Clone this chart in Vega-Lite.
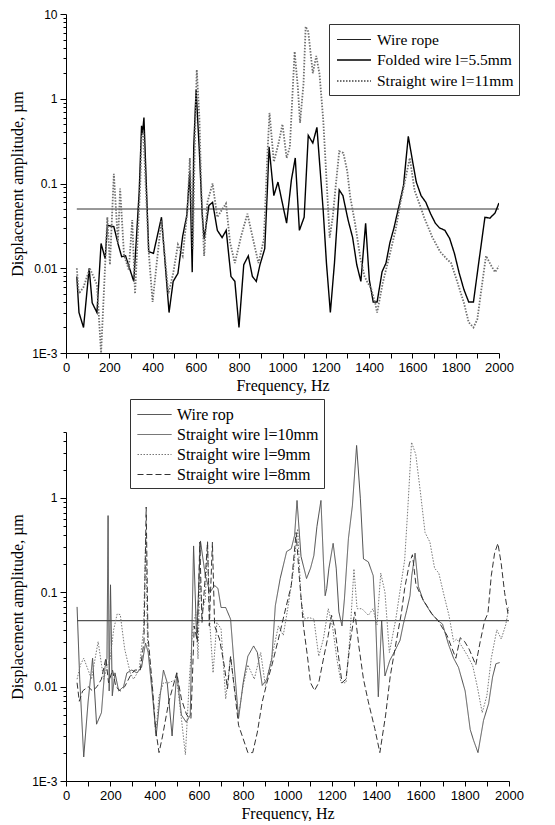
{
"$schema": "https://vega.github.io/schema/vega-lite/v6.json",
"background": "white",
"padding": {"left": 9, "top": 8, "right": 5, "bottom": 0},
"config": {
 "view": {"stroke": null},
 "axis": {"domainColor": "#000", "tickColor": "#000", "labelColor": "#000", "titleColor": "#000", "grid": false, "labelFont": "Liberation Sans", "titleFont": "Liberation Serif", "titleFontWeight": "normal", "titleFontSize": 16, "domainWidth": 1, "tickWidth": 1, "labelOverlap": false, "labelFlush": false},
 "legend": {"title": null, "orient": "none", "labelFont": "Liberation Serif", "labelFontSize": 16, "labelColor": "#000", "labelLimit": 300, "symbolType": "M-0.8,0H2.6", "symbolSize": 400, "labelOffset": 21, "rowPadding": 1, "padding": 5, "strokeColor": "#333", "fillColor": "white", "symbolFillColor": "transparent"}
},
"spacing": 79,
"bounds": "flush",
"resolve": {"scale": {"color": "independent", "strokeDash": "independent", "strokeWidth": "independent"}, "legend": {"color": "independent", "strokeDash": "independent", "strokeWidth": "independent"}},
"datasets": {
 "top": [
  {"freq":50,"amp":0.05,"series":"Wire rope"},{"freq":2000,"amp":0.05,"series":"Wire rope"},
  {"freq":50,"amp":0.008,"series":"Folded wire l=5.5mm"},{"freq":60,"amp":0.003,"series":"Folded wire l=5.5mm"},{"freq":81,"amp":0.002,"series":"Folded wire l=5.5mm"},{"freq":107,"amp":0.01,"series":"Folded wire l=5.5mm"},{"freq":121,"amp":0.0039,"series":"Folded wire l=5.5mm"},{"freq":143,"amp":0.003,"series":"Folded wire l=5.5mm"},{"freq":162,"amp":0.0196,"series":"Folded wire l=5.5mm"},{"freq":181,"amp":0.013,"series":"Folded wire l=5.5mm"},{"freq":191,"amp":0.032,"series":"Folded wire l=5.5mm"},{"freq":221,"amp":0.031,"series":"Folded wire l=5.5mm"},{"freq":240,"amp":0.0196,"series":"Folded wire l=5.5mm"},{"freq":257,"amp":0.0137,"series":"Folded wire l=5.5mm"},{"freq":275,"amp":0.014,"series":"Folded wire l=5.5mm"},{"freq":313,"amp":0.007,"series":"Folded wire l=5.5mm"},{"freq":324,"amp":0.02,"series":"Folded wire l=5.5mm"},{"freq":338,"amp":0.079,"series":"Folded wire l=5.5mm"},{"freq":349,"amp":0.48,"series":"Folded wire l=5.5mm"},{"freq":353,"amp":0.38,"series":"Folded wire l=5.5mm"},{"freq":360,"amp":0.6,"series":"Folded wire l=5.5mm"},{"freq":382,"amp":0.0157,"series":"Folded wire l=5.5mm"},{"freq":404,"amp":0.015,"series":"Folded wire l=5.5mm"},{"freq":441,"amp":0.04,"series":"Folded wire l=5.5mm"},{"freq":476,"amp":0.003,"series":"Folded wire l=5.5mm"},{"freq":495,"amp":0.007,"series":"Folded wire l=5.5mm"},{"freq":517,"amp":0.0087,"series":"Folded wire l=5.5mm"},{"freq":539,"amp":0.024,"series":"Folded wire l=5.5mm"},{"freq":558,"amp":0.042,"series":"Folded wire l=5.5mm"},{"freq":572,"amp":0.14,"series":"Folded wire l=5.5mm"},{"freq":583,"amp":0.009,"series":"Folded wire l=5.5mm"},{"freq":590,"amp":0.27,"series":"Folded wire l=5.5mm"},{"freq":601,"amp":1.28,"series":"Folded wire l=5.5mm"},{"freq":616,"amp":0.24,"series":"Folded wire l=5.5mm"},{"freq":629,"amp":0.044,"series":"Folded wire l=5.5mm"},{"freq":638,"amp":0.022,"series":"Folded wire l=5.5mm"},{"freq":660,"amp":0.055,"series":"Folded wire l=5.5mm"},{"freq":677,"amp":0.06,"series":"Folded wire l=5.5mm"},{"freq":699,"amp":0.028,"series":"Folded wire l=5.5mm"},{"freq":721,"amp":0.023,"series":"Folded wire l=5.5mm"},{"freq":740,"amp":0.028,"series":"Folded wire l=5.5mm"},{"freq":762,"amp":0.008,"series":"Folded wire l=5.5mm"},{"freq":780,"amp":0.007,"series":"Folded wire l=5.5mm"},{"freq":799,"amp":0.002,"series":"Folded wire l=5.5mm"},{"freq":821,"amp":0.011,"series":"Folded wire l=5.5mm"},{"freq":842,"amp":0.014,"series":"Folded wire l=5.5mm"},{"freq":861,"amp":0.008,"series":"Folded wire l=5.5mm"},{"freq":879,"amp":0.007,"series":"Folded wire l=5.5mm"},{"freq":896,"amp":0.011,"series":"Folded wire l=5.5mm"},{"freq":918,"amp":0.017,"series":"Folded wire l=5.5mm"},{"freq":930,"amp":0.083,"series":"Folded wire l=5.5mm"},{"freq":938,"amp":0.27,"series":"Folded wire l=5.5mm"},{"freq":960,"amp":0.072,"series":"Folded wire l=5.5mm"},{"freq":979,"amp":0.104,"series":"Folded wire l=5.5mm"},{"freq":1019,"amp":0.034,"series":"Folded wire l=5.5mm"},{"freq":1041,"amp":0.11,"series":"Folded wire l=5.5mm"},{"freq":1059,"amp":0.2,"series":"Folded wire l=5.5mm"},{"freq":1078,"amp":0.028,"series":"Folded wire l=5.5mm"},{"freq":1100,"amp":0.04,"series":"Folded wire l=5.5mm"},{"freq":1119,"amp":0.37,"series":"Folded wire l=5.5mm"},{"freq":1140,"amp":0.3,"series":"Folded wire l=5.5mm"},{"freq":1159,"amp":0.46,"series":"Folded wire l=5.5mm"},{"freq":1188,"amp":0.048,"series":"Folded wire l=5.5mm"},{"freq":1203,"amp":0.0115,"series":"Folded wire l=5.5mm"},{"freq":1221,"amp":0.003,"series":"Folded wire l=5.5mm"},{"freq":1240,"amp":0.0115,"series":"Folded wire l=5.5mm"},{"freq":1262,"amp":0.084,"series":"Folded wire l=5.5mm"},{"freq":1279,"amp":0.072,"series":"Folded wire l=5.5mm"},{"freq":1303,"amp":0.037,"series":"Folded wire l=5.5mm"},{"freq":1324,"amp":0.023,"series":"Folded wire l=5.5mm"},{"freq":1343,"amp":0.011,"series":"Folded wire l=5.5mm"},{"freq":1362,"amp":0.007,"series":"Folded wire l=5.5mm"},{"freq":1384,"amp":0.034,"series":"Folded wire l=5.5mm"},{"freq":1401,"amp":0.0073,"series":"Folded wire l=5.5mm"},{"freq":1419,"amp":0.004,"series":"Folded wire l=5.5mm"},{"freq":1437,"amp":0.004,"series":"Folded wire l=5.5mm"},{"freq":1460,"amp":0.0091,"series":"Folded wire l=5.5mm"},{"freq":1478,"amp":0.0115,"series":"Folded wire l=5.5mm"},{"freq":1496,"amp":0.02,"series":"Folded wire l=5.5mm"},{"freq":1515,"amp":0.03,"series":"Folded wire l=5.5mm"},{"freq":1537,"amp":0.053,"series":"Folded wire l=5.5mm"},{"freq":1559,"amp":0.095,"series":"Folded wire l=5.5mm"},{"freq":1581,"amp":0.36,"series":"Folded wire l=5.5mm"},{"freq":1603,"amp":0.17,"series":"Folded wire l=5.5mm"},{"freq":1618,"amp":0.104,"series":"Folded wire l=5.5mm"},{"freq":1640,"amp":0.072,"series":"Folded wire l=5.5mm"},{"freq":1662,"amp":0.06,"series":"Folded wire l=5.5mm"},{"freq":1684,"amp":0.044,"series":"Folded wire l=5.5mm"},{"freq":1706,"amp":0.034,"series":"Folded wire l=5.5mm"},{"freq":1725,"amp":0.03,"series":"Folded wire l=5.5mm"},{"freq":1750,"amp":0.028,"series":"Folded wire l=5.5mm"},{"freq":1772,"amp":0.0225,"series":"Folded wire l=5.5mm"},{"freq":1794,"amp":0.015,"series":"Folded wire l=5.5mm"},{"freq":1816,"amp":0.0088,"series":"Folded wire l=5.5mm"},{"freq":1838,"amp":0.0056,"series":"Folded wire l=5.5mm"},{"freq":1860,"amp":0.004,"series":"Folded wire l=5.5mm"},{"freq":1882,"amp":0.004,"series":"Folded wire l=5.5mm"},{"freq":1904,"amp":0.0105,"series":"Folded wire l=5.5mm"},{"freq":1935,"amp":0.04,"series":"Folded wire l=5.5mm"},{"freq":1958,"amp":0.039,"series":"Folded wire l=5.5mm"},{"freq":1982,"amp":0.045,"series":"Folded wire l=5.5mm"},{"freq":2000,"amp":0.059,"series":"Folded wire l=5.5mm"},
  {"freq":50,"amp":0.01,"series":"Straight wire l=11mm"},{"freq":59,"amp":0.005,"series":"Straight wire l=11mm"},{"freq":81,"amp":0.006,"series":"Straight wire l=11mm"},{"freq":110,"amp":0.01,"series":"Straight wire l=11mm"},{"freq":143,"amp":0.0064,"series":"Straight wire l=11mm"},{"freq":162,"amp":0.001,"series":"Straight wire l=11mm"},{"freq":191,"amp":0.04,"series":"Straight wire l=11mm"},{"freq":203,"amp":0.011,"series":"Straight wire l=11mm"},{"freq":221,"amp":0.13,"series":"Straight wire l=11mm"},{"freq":240,"amp":0.02,"series":"Straight wire l=11mm"},{"freq":250,"amp":0.087,"series":"Straight wire l=11mm"},{"freq":268,"amp":0.0143,"series":"Straight wire l=11mm"},{"freq":290,"amp":0.0096,"series":"Straight wire l=11mm"},{"freq":306,"amp":0.037,"series":"Straight wire l=11mm"},{"freq":319,"amp":0.005,"series":"Straight wire l=11mm"},{"freq":331,"amp":0.023,"series":"Straight wire l=11mm"},{"freq":343,"amp":0.1,"series":"Straight wire l=11mm"},{"freq":349,"amp":0.35,"series":"Straight wire l=11mm"},{"freq":357,"amp":0.42,"series":"Straight wire l=11mm"},{"freq":382,"amp":0.0157,"series":"Straight wire l=11mm"},{"freq":400,"amp":0.004,"series":"Straight wire l=11mm"},{"freq":419,"amp":0.0115,"series":"Straight wire l=11mm"},{"freq":441,"amp":0.037,"series":"Straight wire l=11mm"},{"freq":473,"amp":0.005,"series":"Straight wire l=11mm"},{"freq":495,"amp":0.0087,"series":"Straight wire l=11mm"},{"freq":517,"amp":0.019,"series":"Straight wire l=11mm"},{"freq":539,"amp":0.014,"series":"Straight wire l=11mm"},{"freq":561,"amp":0.048,"series":"Straight wire l=11mm"},{"freq":572,"amp":0.2,"series":"Straight wire l=11mm"},{"freq":586,"amp":0.017,"series":"Straight wire l=11mm"},{"freq":594,"amp":0.24,"series":"Straight wire l=11mm"},{"freq":604,"amp":2.2,"series":"Straight wire l=11mm"},{"freq":616,"amp":0.6,"series":"Straight wire l=11mm"},{"freq":626,"amp":0.07,"series":"Straight wire l=11mm"},{"freq":638,"amp":0.014,"series":"Straight wire l=11mm"},{"freq":653,"amp":0.06,"series":"Straight wire l=11mm"},{"freq":677,"amp":0.1,"series":"Straight wire l=11mm"},{"freq":699,"amp":0.04,"series":"Straight wire l=11mm"},{"freq":718,"amp":0.048,"series":"Straight wire l=11mm"},{"freq":739,"amp":0.058,"series":"Straight wire l=11mm"},{"freq":758,"amp":0.02,"series":"Straight wire l=11mm"},{"freq":780,"amp":0.0115,"series":"Straight wire l=11mm"},{"freq":809,"amp":0.024,"series":"Straight wire l=11mm"},{"freq":838,"amp":0.044,"series":"Straight wire l=11mm"},{"freq":864,"amp":0.022,"series":"Straight wire l=11mm"},{"freq":889,"amp":0.0115,"series":"Straight wire l=11mm"},{"freq":914,"amp":0.022,"series":"Straight wire l=11mm"},{"freq":931,"amp":0.24,"series":"Straight wire l=11mm"},{"freq":940,"amp":0.68,"series":"Straight wire l=11mm"},{"freq":960,"amp":0.18,"series":"Straight wire l=11mm"},{"freq":982,"amp":0.3,"series":"Straight wire l=11mm"},{"freq":1000,"amp":0.5,"series":"Straight wire l=11mm"},{"freq":1019,"amp":0.2,"series":"Straight wire l=11mm"},{"freq":1034,"amp":0.27,"series":"Straight wire l=11mm"},{"freq":1056,"amp":3.6,"series":"Straight wire l=11mm"},{"freq":1071,"amp":1.35,"series":"Straight wire l=11mm"},{"freq":1081,"amp":0.52,"series":"Straight wire l=11mm"},{"freq":1097,"amp":1.5,"series":"Straight wire l=11mm"},{"freq":1107,"amp":7.1,"series":"Straight wire l=11mm"},{"freq":1119,"amp":6.2,"series":"Straight wire l=11mm"},{"freq":1140,"amp":2.0,"series":"Straight wire l=11mm"},{"freq":1156,"amp":3.2,"series":"Straight wire l=11mm"},{"freq":1171,"amp":1.95,"series":"Straight wire l=11mm"},{"freq":1188,"amp":0.57,"series":"Straight wire l=11mm"},{"freq":1206,"amp":0.083,"series":"Straight wire l=11mm"},{"freq":1218,"amp":0.023,"series":"Straight wire l=11mm"},{"freq":1232,"amp":0.04,"series":"Straight wire l=11mm"},{"freq":1247,"amp":0.1,"series":"Straight wire l=11mm"},{"freq":1262,"amp":0.24,"series":"Straight wire l=11mm"},{"freq":1281,"amp":0.23,"series":"Straight wire l=11mm"},{"freq":1299,"amp":0.14,"series":"Straight wire l=11mm"},{"freq":1313,"amp":0.069,"series":"Straight wire l=11mm"},{"freq":1335,"amp":0.034,"series":"Straight wire l=11mm"},{"freq":1360,"amp":0.013,"series":"Straight wire l=11mm"},{"freq":1379,"amp":0.008,"series":"Straight wire l=11mm"},{"freq":1394,"amp":0.0067,"series":"Straight wire l=11mm"},{"freq":1409,"amp":0.0058,"series":"Straight wire l=11mm"},{"freq":1428,"amp":0.0039,"series":"Straight wire l=11mm"},{"freq":1437,"amp":0.003,"series":"Straight wire l=11mm"},{"freq":1463,"amp":0.0067,"series":"Straight wire l=11mm"},{"freq":1493,"amp":0.0137,"series":"Straight wire l=11mm"},{"freq":1522,"amp":0.028,"series":"Straight wire l=11mm"},{"freq":1544,"amp":0.058,"series":"Straight wire l=11mm"},{"freq":1566,"amp":0.108,"series":"Straight wire l=11mm"},{"freq":1588,"amp":0.2,"series":"Straight wire l=11mm"},{"freq":1610,"amp":0.083,"series":"Straight wire l=11mm"},{"freq":1632,"amp":0.058,"series":"Straight wire l=11mm"},{"freq":1654,"amp":0.04,"series":"Straight wire l=11mm"},{"freq":1691,"amp":0.0235,"series":"Straight wire l=11mm"},{"freq":1728,"amp":0.0157,"series":"Straight wire l=11mm"},{"freq":1757,"amp":0.013,"series":"Straight wire l=11mm"},{"freq":1779,"amp":0.0115,"series":"Straight wire l=11mm"},{"freq":1809,"amp":0.0067,"series":"Straight wire l=11mm"},{"freq":1838,"amp":0.0039,"series":"Straight wire l=11mm"},{"freq":1860,"amp":0.0023,"series":"Straight wire l=11mm"},{"freq":1882,"amp":0.002,"series":"Straight wire l=11mm"},{"freq":1900,"amp":0.0025,"series":"Straight wire l=11mm"},{"freq":1920,"amp":0.006,"series":"Straight wire l=11mm"},{"freq":1940,"amp":0.014,"series":"Straight wire l=11mm"},{"freq":1966,"amp":0.0105,"series":"Straight wire l=11mm"},{"freq":1982,"amp":0.009,"series":"Straight wire l=11mm"},{"freq":2000,"amp":0.0106,"series":"Straight wire l=11mm"}
 ],
 "bottom": [
  {"freq":50,"amp":0.05,"series":"Wire rop"},{"freq":2000,"amp":0.05,"series":"Wire rop"},
  {"freq":50,"amp":0.07,"series":"Straight wire l=10mm"},{"freq":62,"amp":0.012,"series":"Straight wire l=10mm"},{"freq":80,"amp":0.0018,"series":"Straight wire l=10mm"},{"freq":100,"amp":0.007,"series":"Straight wire l=10mm"},{"freq":120,"amp":0.02,"series":"Straight wire l=10mm"},{"freq":138,"amp":0.004,"series":"Straight wire l=10mm"},{"freq":160,"amp":0.0053,"series":"Straight wire l=10mm"},{"freq":176,"amp":0.016,"series":"Straight wire l=10mm"},{"freq":185,"amp":0.02,"series":"Straight wire l=10mm"},{"freq":190,"amp":0.65,"series":"Straight wire l=10mm"},{"freq":195,"amp":0.009,"series":"Straight wire l=10mm"},{"freq":201,"amp":0.12,"series":"Straight wire l=10mm"},{"freq":209,"amp":0.008,"series":"Straight wire l=10mm"},{"freq":221,"amp":0.014,"series":"Straight wire l=10mm"},{"freq":238,"amp":0.009,"series":"Straight wire l=10mm"},{"freq":260,"amp":0.01,"series":"Straight wire l=10mm"},{"freq":275,"amp":0.014,"series":"Straight wire l=10mm"},{"freq":297,"amp":0.015,"series":"Straight wire l=10mm"},{"freq":320,"amp":0.014,"series":"Straight wire l=10mm"},{"freq":341,"amp":0.016,"series":"Straight wire l=10mm"},{"freq":359,"amp":0.029,"series":"Straight wire l=10mm"},{"freq":371,"amp":0.023,"series":"Straight wire l=10mm"},{"freq":393,"amp":0.007,"series":"Straight wire l=10mm"},{"freq":407,"amp":0.003,"series":"Straight wire l=10mm"},{"freq":425,"amp":0.008,"series":"Straight wire l=10mm"},{"freq":440,"amp":0.015,"series":"Straight wire l=10mm"},{"freq":457,"amp":0.011,"series":"Straight wire l=10mm"},{"freq":479,"amp":0.003,"series":"Straight wire l=10mm"},{"freq":500,"amp":0.014,"series":"Straight wire l=10mm"},{"freq":521,"amp":0.005,"series":"Straight wire l=10mm"},{"freq":543,"amp":0.0042,"series":"Straight wire l=10mm"},{"freq":561,"amp":0.005,"series":"Straight wire l=10mm"},{"freq":576,"amp":0.31,"series":"Straight wire l=10mm"},{"freq":590,"amp":0.032,"series":"Straight wire l=10mm"},{"freq":607,"amp":0.35,"series":"Straight wire l=10mm"},{"freq":629,"amp":0.15,"series":"Straight wire l=10mm"},{"freq":650,"amp":0.1,"series":"Straight wire l=10mm"},{"freq":671,"amp":0.118,"series":"Straight wire l=10mm"},{"freq":686,"amp":0.11,"series":"Straight wire l=10mm"},{"freq":700,"amp":0.069,"series":"Straight wire l=10mm"},{"freq":721,"amp":0.069,"series":"Straight wire l=10mm"},{"freq":743,"amp":0.052,"series":"Straight wire l=10mm"},{"freq":757,"amp":0.0196,"series":"Straight wire l=10mm"},{"freq":779,"amp":0.0046,"series":"Straight wire l=10mm"},{"freq":800,"amp":0.011,"series":"Straight wire l=10mm"},{"freq":821,"amp":0.021,"series":"Straight wire l=10mm"},{"freq":847,"amp":0.027,"series":"Straight wire l=10mm"},{"freq":864,"amp":0.023,"series":"Straight wire l=10mm"},{"freq":886,"amp":0.0103,"series":"Straight wire l=10mm"},{"freq":907,"amp":0.012,"series":"Straight wire l=10mm"},{"freq":929,"amp":0.0196,"series":"Straight wire l=10mm"},{"freq":945,"amp":0.072,"series":"Straight wire l=10mm"},{"freq":967,"amp":0.14,"series":"Straight wire l=10mm"},{"freq":996,"amp":0.27,"series":"Straight wire l=10mm"},{"freq":1017,"amp":0.29,"series":"Straight wire l=10mm"},{"freq":1032,"amp":0.4,"series":"Straight wire l=10mm"},{"freq":1043,"amp":0.94,"series":"Straight wire l=10mm"},{"freq":1061,"amp":0.24,"series":"Straight wire l=10mm"},{"freq":1086,"amp":0.14,"series":"Straight wire l=10mm"},{"freq":1104,"amp":0.18,"series":"Straight wire l=10mm"},{"freq":1119,"amp":0.245,"series":"Straight wire l=10mm"},{"freq":1133,"amp":0.5,"series":"Straight wire l=10mm"},{"freq":1151,"amp":0.94,"series":"Straight wire l=10mm"},{"freq":1162,"amp":0.22,"series":"Straight wire l=10mm"},{"freq":1170,"amp":0.092,"series":"Straight wire l=10mm"},{"freq":1177,"amp":0.11,"series":"Straight wire l=10mm"},{"freq":1187,"amp":0.18,"series":"Straight wire l=10mm"},{"freq":1206,"amp":0.33,"series":"Straight wire l=10mm"},{"freq":1220,"amp":0.18,"series":"Straight wire l=10mm"},{"freq":1232,"amp":0.062,"series":"Straight wire l=10mm"},{"freq":1246,"amp":0.044,"series":"Straight wire l=10mm"},{"freq":1257,"amp":0.085,"series":"Straight wire l=10mm"},{"freq":1275,"amp":0.37,"series":"Straight wire l=10mm"},{"freq":1293,"amp":0.83,"series":"Straight wire l=10mm"},{"freq":1312,"amp":3.6,"series":"Straight wire l=10mm"},{"freq":1329,"amp":0.98,"series":"Straight wire l=10mm"},{"freq":1343,"amp":0.226,"series":"Straight wire l=10mm"},{"freq":1365,"amp":0.21,"series":"Straight wire l=10mm"},{"freq":1387,"amp":0.15,"series":"Straight wire l=10mm"},{"freq":1399,"amp":0.044,"series":"Straight wire l=10mm"},{"freq":1410,"amp":0.0078,"series":"Straight wire l=10mm"},{"freq":1425,"amp":0.05,"series":"Straight wire l=10mm"},{"freq":1440,"amp":0.013,"series":"Straight wire l=10mm"},{"freq":1462,"amp":0.019,"series":"Straight wire l=10mm"},{"freq":1485,"amp":0.024,"series":"Straight wire l=10mm"},{"freq":1508,"amp":0.031,"series":"Straight wire l=10mm"},{"freq":1523,"amp":0.046,"series":"Straight wire l=10mm"},{"freq":1538,"amp":0.064,"series":"Straight wire l=10mm"},{"freq":1553,"amp":0.092,"series":"Straight wire l=10mm"},{"freq":1561,"amp":0.15,"series":"Straight wire l=10mm"},{"freq":1576,"amp":0.26,"series":"Straight wire l=10mm"},{"freq":1591,"amp":0.115,"series":"Straight wire l=10mm"},{"freq":1613,"amp":0.082,"series":"Straight wire l=10mm"},{"freq":1651,"amp":0.059,"series":"Straight wire l=10mm"},{"freq":1680,"amp":0.05,"series":"Straight wire l=10mm"},{"freq":1700,"amp":0.046,"series":"Straight wire l=10mm"},{"freq":1727,"amp":0.028,"series":"Straight wire l=10mm"},{"freq":1750,"amp":0.02,"series":"Straight wire l=10mm"},{"freq":1772,"amp":0.016,"series":"Straight wire l=10mm"},{"freq":1802,"amp":0.009,"series":"Straight wire l=10mm"},{"freq":1825,"amp":0.0035,"series":"Straight wire l=10mm"},{"freq":1840,"amp":0.0027,"series":"Straight wire l=10mm"},{"freq":1860,"amp":0.002,"series":"Straight wire l=10mm"},{"freq":1885,"amp":0.0044,"series":"Straight wire l=10mm"},{"freq":1908,"amp":0.0066,"series":"Straight wire l=10mm"},{"freq":1926,"amp":0.0127,"series":"Straight wire l=10mm"},{"freq":1941,"amp":0.0175,"series":"Straight wire l=10mm"},{"freq":1958,"amp":0.018,"series":"Straight wire l=10mm"},
  {"freq":50,"amp":0.012,"series":"Straight wire l=9mm"},{"freq":65,"amp":0.017,"series":"Straight wire l=9mm"},{"freq":80,"amp":0.02,"series":"Straight wire l=9mm"},{"freq":100,"amp":0.015,"series":"Straight wire l=9mm"},{"freq":115,"amp":0.012,"series":"Straight wire l=9mm"},{"freq":145,"amp":0.03,"series":"Straight wire l=9mm"},{"freq":170,"amp":0.012,"series":"Straight wire l=9mm"},{"freq":185,"amp":0.016,"series":"Straight wire l=9mm"},{"freq":200,"amp":0.02,"series":"Straight wire l=9mm"},{"freq":215,"amp":0.04,"series":"Straight wire l=9mm"},{"freq":231,"amp":0.059,"series":"Straight wire l=9mm"},{"freq":245,"amp":0.058,"series":"Straight wire l=9mm"},{"freq":265,"amp":0.025,"series":"Straight wire l=9mm"},{"freq":290,"amp":0.014,"series":"Straight wire l=9mm"},{"freq":305,"amp":0.012,"series":"Straight wire l=9mm"},{"freq":330,"amp":0.015,"series":"Straight wire l=9mm"},{"freq":350,"amp":0.04,"series":"Straight wire l=9mm"},{"freq":360,"amp":0.42,"series":"Straight wire l=9mm"},{"freq":368,"amp":0.03,"series":"Straight wire l=9mm"},{"freq":390,"amp":0.01,"series":"Straight wire l=9mm"},{"freq":405,"amp":0.003,"series":"Straight wire l=9mm"},{"freq":420,"amp":0.008,"series":"Straight wire l=9mm"},{"freq":440,"amp":0.011,"series":"Straight wire l=9mm"},{"freq":464,"amp":0.011,"series":"Straight wire l=9mm"},{"freq":500,"amp":0.012,"series":"Straight wire l=9mm"},{"freq":521,"amp":0.0046,"series":"Straight wire l=9mm"},{"freq":539,"amp":0.0019,"series":"Straight wire l=9mm"},{"freq":557,"amp":0.012,"series":"Straight wire l=9mm"},{"freq":571,"amp":0.038,"series":"Straight wire l=9mm"},{"freq":586,"amp":0.062,"series":"Straight wire l=9mm"},{"freq":596,"amp":0.0196,"series":"Straight wire l=9mm"},{"freq":604,"amp":0.15,"series":"Straight wire l=9mm"},{"freq":614,"amp":0.062,"series":"Straight wire l=9mm"},{"freq":629,"amp":0.085,"series":"Straight wire l=9mm"},{"freq":639,"amp":0.35,"series":"Straight wire l=9mm"},{"freq":650,"amp":0.044,"series":"Straight wire l=9mm"},{"freq":664,"amp":0.014,"series":"Straight wire l=9mm"},{"freq":681,"amp":0.048,"series":"Straight wire l=9mm"},{"freq":700,"amp":0.041,"series":"Straight wire l=9mm"},{"freq":721,"amp":0.0074,"series":"Straight wire l=9mm"},{"freq":743,"amp":0.021,"series":"Straight wire l=9mm"},{"freq":761,"amp":0.0095,"series":"Straight wire l=9mm"},{"freq":779,"amp":0.005,"series":"Straight wire l=9mm"},{"freq":800,"amp":0.0103,"series":"Straight wire l=9mm"},{"freq":821,"amp":0.017,"series":"Straight wire l=9mm"},{"freq":850,"amp":0.012,"series":"Straight wire l=9mm"},{"freq":879,"amp":0.023,"series":"Straight wire l=9mm"},{"freq":900,"amp":0.0103,"series":"Straight wire l=9mm"},{"freq":930,"amp":0.021,"series":"Straight wire l=9mm"},{"freq":959,"amp":0.044,"series":"Straight wire l=9mm"},{"freq":981,"amp":0.035,"series":"Straight wire l=9mm"},{"freq":1003,"amp":0.072,"series":"Straight wire l=9mm"},{"freq":1025,"amp":0.16,"series":"Straight wire l=9mm"},{"freq":1046,"amp":0.47,"series":"Straight wire l=9mm"},{"freq":1061,"amp":0.085,"series":"Straight wire l=9mm"},{"freq":1075,"amp":0.052,"series":"Straight wire l=9mm"},{"freq":1097,"amp":0.054,"series":"Straight wire l=9mm"},{"freq":1119,"amp":0.052,"series":"Straight wire l=9mm"},{"freq":1141,"amp":0.021,"series":"Straight wire l=9mm"},{"freq":1162,"amp":0.032,"series":"Straight wire l=9mm"},{"freq":1184,"amp":0.067,"series":"Straight wire l=9mm"},{"freq":1203,"amp":0.044,"series":"Straight wire l=9mm"},{"freq":1223,"amp":0.0196,"series":"Straight wire l=9mm"},{"freq":1242,"amp":0.011,"series":"Straight wire l=9mm"},{"freq":1264,"amp":0.011,"series":"Straight wire l=9mm"},{"freq":1281,"amp":0.032,"series":"Straight wire l=9mm"},{"freq":1300,"amp":0.177,"series":"Straight wire l=9mm"},{"freq":1314,"amp":0.067,"series":"Straight wire l=9mm"},{"freq":1336,"amp":0.067,"series":"Straight wire l=9mm"},{"freq":1365,"amp":0.057,"series":"Straight wire l=9mm"},{"freq":1386,"amp":0.067,"series":"Straight wire l=9mm"},{"freq":1404,"amp":0.045,"series":"Straight wire l=9mm"},{"freq":1421,"amp":0.16,"series":"Straight wire l=9mm"},{"freq":1440,"amp":0.1,"series":"Straight wire l=9mm"},{"freq":1460,"amp":0.023,"series":"Straight wire l=9mm"},{"freq":1489,"amp":0.052,"series":"Straight wire l=9mm"},{"freq":1507,"amp":0.1,"series":"Straight wire l=9mm"},{"freq":1529,"amp":0.22,"series":"Straight wire l=9mm"},{"freq":1543,"amp":0.76,"series":"Straight wire l=9mm"},{"freq":1560,"amp":3.9,"series":"Straight wire l=9mm"},{"freq":1579,"amp":2.9,"series":"Straight wire l=9mm"},{"freq":1600,"amp":1.15,"series":"Straight wire l=9mm"},{"freq":1621,"amp":0.43,"series":"Straight wire l=9mm"},{"freq":1643,"amp":0.34,"series":"Straight wire l=9mm"},{"freq":1664,"amp":0.18,"series":"Straight wire l=9mm"},{"freq":1683,"amp":0.16,"series":"Straight wire l=9mm"},{"freq":1707,"amp":0.092,"series":"Straight wire l=9mm"},{"freq":1729,"amp":0.057,"series":"Straight wire l=9mm"},{"freq":1750,"amp":0.03,"series":"Straight wire l=9mm"},{"freq":1764,"amp":0.032,"series":"Straight wire l=9mm"},{"freq":1786,"amp":0.027,"series":"Straight wire l=9mm"},{"freq":1814,"amp":0.021,"series":"Straight wire l=9mm"},{"freq":1836,"amp":0.0167,"series":"Straight wire l=9mm"},{"freq":1857,"amp":0.01,"series":"Straight wire l=9mm"},{"freq":1879,"amp":0.0053,"series":"Straight wire l=9mm"},{"freq":1900,"amp":0.008,"series":"Straight wire l=9mm"},{"freq":1920,"amp":0.02,"series":"Straight wire l=9mm"},{"freq":1945,"amp":0.04,"series":"Straight wire l=9mm"},{"freq":1965,"amp":0.032,"series":"Straight wire l=9mm"},{"freq":1985,"amp":0.045,"series":"Straight wire l=9mm"},{"freq":2000,"amp":0.07,"series":"Straight wire l=9mm"},
  {"freq":50,"amp":0.011,"series":"Straight wire l=8mm"},{"freq":60,"amp":0.007,"series":"Straight wire l=8mm"},{"freq":75,"amp":0.009,"series":"Straight wire l=8mm"},{"freq":100,"amp":0.01,"series":"Straight wire l=8mm"},{"freq":120,"amp":0.009,"series":"Straight wire l=8mm"},{"freq":140,"amp":0.01,"series":"Straight wire l=8mm"},{"freq":160,"amp":0.012,"series":"Straight wire l=8mm"},{"freq":180,"amp":0.02,"series":"Straight wire l=8mm"},{"freq":192,"amp":0.011,"series":"Straight wire l=8mm"},{"freq":210,"amp":0.015,"series":"Straight wire l=8mm"},{"freq":225,"amp":0.01,"series":"Straight wire l=8mm"},{"freq":245,"amp":0.009,"series":"Straight wire l=8mm"},{"freq":265,"amp":0.01,"series":"Straight wire l=8mm"},{"freq":290,"amp":0.013,"series":"Straight wire l=8mm"},{"freq":310,"amp":0.015,"series":"Straight wire l=8mm"},{"freq":335,"amp":0.015,"series":"Straight wire l=8mm"},{"freq":352,"amp":0.03,"series":"Straight wire l=8mm"},{"freq":362,"amp":0.8,"series":"Straight wire l=8mm"},{"freq":370,"amp":0.035,"series":"Straight wire l=8mm"},{"freq":390,"amp":0.01,"series":"Straight wire l=8mm"},{"freq":405,"amp":0.0035,"series":"Straight wire l=8mm"},{"freq":420,"amp":0.002,"series":"Straight wire l=8mm"},{"freq":436,"amp":0.003,"series":"Straight wire l=8mm"},{"freq":464,"amp":0.0069,"series":"Straight wire l=8mm"},{"freq":500,"amp":0.014,"series":"Straight wire l=8mm"},{"freq":521,"amp":0.0074,"series":"Straight wire l=8mm"},{"freq":545,"amp":0.005,"series":"Straight wire l=8mm"},{"freq":564,"amp":0.0046,"series":"Straight wire l=8mm"},{"freq":579,"amp":0.044,"series":"Straight wire l=8mm"},{"freq":593,"amp":0.03,"series":"Straight wire l=8mm"},{"freq":604,"amp":0.34,"series":"Straight wire l=8mm"},{"freq":614,"amp":0.048,"series":"Straight wire l=8mm"},{"freq":629,"amp":0.15,"series":"Straight wire l=8mm"},{"freq":639,"amp":0.34,"series":"Straight wire l=8mm"},{"freq":647,"amp":0.044,"series":"Straight wire l=8mm"},{"freq":661,"amp":0.34,"series":"Straight wire l=8mm"},{"freq":671,"amp":0.044,"series":"Straight wire l=8mm"},{"freq":693,"amp":0.032,"series":"Straight wire l=8mm"},{"freq":714,"amp":0.017,"series":"Straight wire l=8mm"},{"freq":729,"amp":0.0095,"series":"Straight wire l=8mm"},{"freq":743,"amp":0.021,"series":"Straight wire l=8mm"},{"freq":757,"amp":0.011,"series":"Straight wire l=8mm"},{"freq":779,"amp":0.0039,"series":"Straight wire l=8mm"},{"freq":800,"amp":0.0028,"series":"Straight wire l=8mm"},{"freq":821,"amp":0.002,"series":"Straight wire l=8mm"},{"freq":843,"amp":0.002,"series":"Straight wire l=8mm"},{"freq":864,"amp":0.0033,"series":"Straight wire l=8mm"},{"freq":886,"amp":0.0069,"series":"Straight wire l=8mm"},{"freq":907,"amp":0.011,"series":"Straight wire l=8mm"},{"freq":930,"amp":0.017,"series":"Straight wire l=8mm"},{"freq":959,"amp":0.032,"series":"Straight wire l=8mm"},{"freq":988,"amp":0.062,"series":"Straight wire l=8mm"},{"freq":1017,"amp":0.118,"series":"Straight wire l=8mm"},{"freq":1039,"amp":0.43,"series":"Straight wire l=8mm"},{"freq":1054,"amp":0.138,"series":"Straight wire l=8mm"},{"freq":1072,"amp":0.044,"series":"Straight wire l=8mm"},{"freq":1090,"amp":0.021,"series":"Straight wire l=8mm"},{"freq":1104,"amp":0.011,"series":"Straight wire l=8mm"},{"freq":1122,"amp":0.0091,"series":"Straight wire l=8mm"},{"freq":1141,"amp":0.011,"series":"Straight wire l=8mm"},{"freq":1162,"amp":0.0196,"series":"Straight wire l=8mm"},{"freq":1184,"amp":0.035,"series":"Straight wire l=8mm"},{"freq":1199,"amp":0.057,"series":"Straight wire l=8mm"},{"freq":1214,"amp":0.041,"series":"Straight wire l=8mm"},{"freq":1232,"amp":0.0196,"series":"Straight wire l=8mm"},{"freq":1246,"amp":0.011,"series":"Straight wire l=8mm"},{"freq":1264,"amp":0.012,"series":"Straight wire l=8mm"},{"freq":1285,"amp":0.032,"series":"Straight wire l=8mm"},{"freq":1304,"amp":0.062,"series":"Straight wire l=8mm"},{"freq":1322,"amp":0.027,"series":"Straight wire l=8mm"},{"freq":1343,"amp":0.012,"series":"Straight wire l=8mm"},{"freq":1365,"amp":0.0069,"series":"Straight wire l=8mm"},{"freq":1394,"amp":0.0036,"series":"Straight wire l=8mm"},{"freq":1417,"amp":0.002,"series":"Straight wire l=8mm"},{"freq":1443,"amp":0.005,"series":"Straight wire l=8mm"},{"freq":1464,"amp":0.013,"series":"Straight wire l=8mm"},{"freq":1493,"amp":0.032,"series":"Straight wire l=8mm"},{"freq":1514,"amp":0.06,"series":"Straight wire l=8mm"},{"freq":1529,"amp":0.11,"series":"Straight wire l=8mm"},{"freq":1550,"amp":0.2,"series":"Straight wire l=8mm"},{"freq":1564,"amp":0.25,"series":"Straight wire l=8mm"},{"freq":1580,"amp":0.12,"series":"Straight wire l=8mm"},{"freq":1610,"amp":0.085,"series":"Straight wire l=8mm"},{"freq":1650,"amp":0.06,"series":"Straight wire l=8mm"},{"freq":1680,"amp":0.05,"series":"Straight wire l=8mm"},{"freq":1720,"amp":0.035,"series":"Straight wire l=8mm"},{"freq":1760,"amp":0.02,"series":"Straight wire l=8mm"},{"freq":1780,"amp":0.033,"series":"Straight wire l=8mm"},{"freq":1800,"amp":0.03,"series":"Straight wire l=8mm"},{"freq":1820,"amp":0.025,"series":"Straight wire l=8mm"},{"freq":1850,"amp":0.017,"series":"Straight wire l=8mm"},{"freq":1870,"amp":0.03,"series":"Straight wire l=8mm"},{"freq":1890,"amp":0.05,"series":"Straight wire l=8mm"},{"freq":1905,"amp":0.06,"series":"Straight wire l=8mm"},{"freq":1920,"amp":0.15,"series":"Straight wire l=8mm"},{"freq":1935,"amp":0.26,"series":"Straight wire l=8mm"},{"freq":1950,"amp":0.33,"series":"Straight wire l=8mm"},{"freq":1965,"amp":0.2,"series":"Straight wire l=8mm"},{"freq":1980,"amp":0.1,"series":"Straight wire l=8mm"},{"freq":1995,"amp":0.06,"series":"Straight wire l=8mm"}
 ]
},
"vconcat": [
 {
  "width": 433, "height": 339,
  "data": {"name": "top"},
  "mark": {"type": "line", "clip": true},
  "encoding": {
   "x": {"field": "freq", "type": "quantitative", "scale": {"domain": [0, 2000], "nice": false, "zero": false},
    "axis": {"values": [0,100,200,300,400,500,600,700,800,900,1000,1100,1200,1300,1400,1500,1600,1700,1800,1900,2000], "labelExpr": "datum.value % 200 == 0 ? '' + datum.value : ''", "labelFontSize": 13, "tickSize": 5, "labelPadding": 3, "title": "Frequency, Hz", "titleFont": "Liberation Serif", "titleFontWeight": "normal", "titlePadding": 3}},
   "y": {"field": "amp", "type": "quantitative", "scale": {"type": "log", "domain": [0.001, 10], "nice": false},
    "axis": {"values": [0.001,0.002,0.003,0.004,0.005,0.006,0.007,0.008,0.009,0.01,0.02,0.03,0.04,0.05,0.06,0.07,0.08,0.09,0.1,0.2,0.3,0.4,0.5,0.6,0.7,0.8,0.9,1,2,3,4,5,6,7,8,9,10],
     "labelExpr": "datum.value == 0.001 ? '1E-3' : (indexof([0.01,0.1,1,10], datum.value) >= 0 ? '' + datum.value : '')",
     "tickSize": {"condition": {"test": "indexof([0.001,0.01,0.1,1,10], datum.value) >= 0", "value": 6}, "value": 3},
     "labelFontSize": 12, "labelPadding": 3, "title": "Displacement amplitude, µm", "titleFont": "Liberation Serif", "titleFontWeight": "normal", "titlePadding": 6}},
   "color": {"field": "series", "type": "nominal", "scale": {"domain": ["Wire rope", "Folded wire l=5.5mm", "Straight wire l=11mm"], "range": ["#222222", "#000000", "#707070"]},
    "legend": {"legendX": 263, "legendY": 10, "labelFontSize": 15.5}},
   "strokeWidth": {"field": "series", "type": "nominal", "scale": {"domain": ["Wire rope", "Folded wire l=5.5mm", "Straight wire l=11mm"], "range": [1, 1.8, 1]},
    "legend": {"legendX": 263, "legendY": 10, "labelFontSize": 15.5}},
   "strokeDash": {"field": "series", "type": "nominal", "scale": {"domain": ["Wire rope", "Folded wire l=5.5mm", "Straight wire l=11mm"], "range": [[1, 0], [1, 0], [1.5, 1.5]]},
    "legend": {"legendX": 263, "legendY": 10, "labelFontSize": 15.5}}
  }
 },
 {
  "width": 443, "height": 349,
  "data": {"name": "bottom"},
  "mark": {"type": "line", "clip": true, "strokeWidth": 1},
  "encoding": {
   "x": {"field": "freq", "type": "quantitative", "scale": {"domain": [0, 2000], "nice": false, "zero": false},
    "axis": {"values": [0,100,200,300,400,500,600,700,800,900,1000,1100,1200,1300,1400,1500,1600,1700,1800,1900,2000], "labelExpr": "datum.value % 200 == 0 ? '' + datum.value : ''", "labelFontSize": 13, "tickSize": 5, "labelPadding": 3, "title": "Frequency, Hz", "titleFont": "Liberation Serif", "titleFontWeight": "normal", "titlePadding": 3}},
   "y": {"field": "amp", "type": "quantitative", "scale": {"type": "log", "domain": [0.001, 5], "nice": false},
    "axis": {"values": [0.001,0.002,0.003,0.004,0.005,0.006,0.007,0.008,0.009,0.01,0.02,0.03,0.04,0.05,0.06,0.07,0.08,0.09,0.1,0.2,0.3,0.4,0.5,0.6,0.7,0.8,0.9,1,2,3,4,5],
     "labelExpr": "datum.value == 0.001 ? '1E-3' : (indexof([0.01,0.1,1], datum.value) >= 0 ? '' + datum.value : '')",
     "tickSize": {"condition": {"test": "indexof([0.001,0.01,0.1,1], datum.value) >= 0", "value": 6}, "value": 3},
     "labelFontSize": 12, "labelPadding": 3, "title": "Displacement amplitude, µm", "titleFont": "Liberation Serif", "titleFontWeight": "normal", "titlePadding": 6}},
   "color": {"field": "series", "type": "nominal", "scale": {"domain": ["Wire rop", "Straight wire l=10mm", "Straight wire l=9mm", "Straight wire l=8mm"], "range": ["#222222", "#4a4a4a", "#777777", "#333333"]},
    "legend": {"legendX": 64, "legendY": -33, "symbolStrokeWidth": 1}},
   "strokeDash": {"field": "series", "type": "nominal", "scale": {"domain": ["Wire rop", "Straight wire l=10mm", "Straight wire l=9mm", "Straight wire l=8mm"], "range": [[1, 0], [1, 0], [1.5, 1.5], [6, 3]]},
    "legend": {"legendX": 64, "legendY": -33, "symbolStrokeWidth": 1}}
  }
 }
]
}
